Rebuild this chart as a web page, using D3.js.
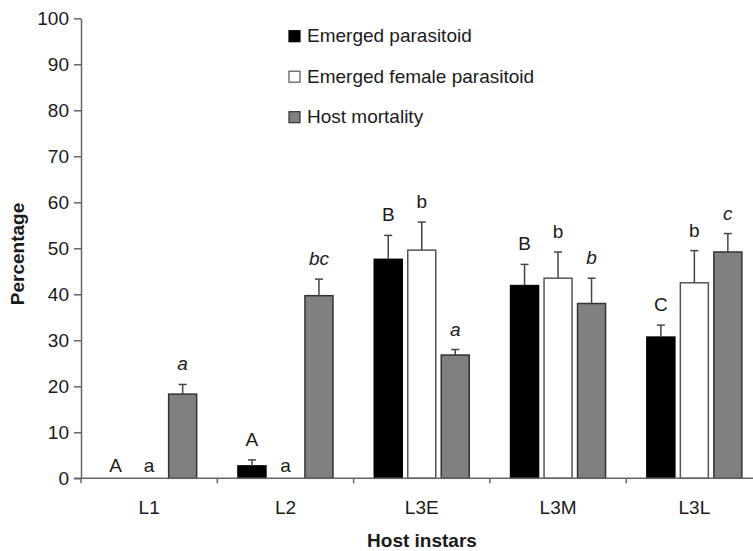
<!DOCTYPE html>
<html>
<head>
<meta charset="utf-8">
<script src="https://cdn.jsdelivr.net/npm/d3@7"></script>
<style>
  body { margin: 0; background: #fff; }
  svg { display: block; font-family: "Liberation Sans", Arial, sans-serif; }
</style>
</head>
<body>
<div id="chart"></div>
<script>
// data
var categories = ["L1", "L2", "L3E", "L3M", "L3L"];
var series = ["Emerged parasitoid", "Emerged female parasitoid", "Host mortality"];

var emerged      = [0, 2.7, 47.6, 41.9, 30.7];
var emergedErr   = [0, 1.3, 5.2, 4.6, 2.6];
var female       = [0, 0, 49.6, 43.5, 42.5];
var femaleErr    = [0, 0, 6.1, 5.7, 7.0];
var mortality    = [18.3, 39.7, 26.8, 38.0, 49.2];
var mortalityErr = [2.1, 3.6, 1.2, 5.5, 4.0];

var emergedLetters   = ["A", "A", "B", "B", "C"];
var femaleLetters    = ["a", "a", "b", "b", "b"];
var mortalityLetters = ["a", "bc", "a", "b", "c"];

var yTicks = [0, 10, 20, 30, 40, 50, 60, 70, 80, 90, 100];

var fills   = ["#000000", "#ffffff", "#808080"];
var strokes = ["#000000", "#555555", "#333333"];
var italic  = [false, false, true];

var w = 753, h = 551;
var axisColor = "#666";
var textColor = "#1a1a1a";

var svg = d3.select("#chart").append("svg")
    .attr("width", w)
    .attr("height", h);

var x = d3.scaleBand()
    .domain(categories)
    .range([81, 762.5])
    .paddingInner(0)
    .paddingOuter(0);

var y = d3.scaleLinear()
    .domain([0, 100])
    .range([478.3, 18.3]);

// bars inside each group
var xSub = d3.scaleBand()
    .domain(series)
    .range([x.bandwidth() / 2 - 47.5, x.bandwidth() / 2 + 47.5])
    .paddingInner(0.164);

var vals = [emerged, female, mortality];
var errs = [emergedErr, femaleErr, mortalityErr];
var lets = [emergedLetters, femaleLetters, mortalityLetters];

var rows = [];
categories.forEach(function(c, i) {
    series.forEach(function(s, j) {
        rows.push({cat: c, ser: s, j: j, v: vals[j][i], e: errs[j][i], lab: lets[j][i]});
    });
});

var g = svg.append("g");

var groups = g.selectAll(".bar")
    .data(rows)
    .enter().append("g")
    .attr("class", "bar")
    .attr("transform", function(d) { return "translate(" + (x(d.cat) + xSub(d.ser)) + ",0)"; });

groups.filter(function(d) { return d.v > 0; })
    .append("rect")
    .attr("x", 0)
    .attr("y", function(d) { return y(d.v); })
    .attr("width", xSub.bandwidth())
    .attr("height", function(d) { return y(0) - y(d.v); })
    .style("fill", function(d) { return fills[d.j]; })
    .style("stroke", function(d) { return strokes[d.j]; })
    .style("stroke-width", 1.5);

// error bars (upper only)
var cap = 4;
var eb = groups.filter(function(d) { return d.e > 0; });
eb.append("line")
    .attr("x1", xSub.bandwidth() / 2)
    .attr("x2", xSub.bandwidth() / 2)
    .attr("y1", function(d) { return y(d.v); })
    .attr("y2", function(d) { return y(d.v + d.e); })
    .style("stroke", "#444")
    .style("stroke-width", 1.5);
eb.append("line")
    .attr("x1", xSub.bandwidth() / 2 - cap)
    .attr("x2", xSub.bandwidth() / 2 + cap)
    .attr("y1", function(d) { return y(d.v + d.e); })
    .attr("y2", function(d) { return y(d.v + d.e); })
    .style("stroke", "#444")
    .style("stroke-width", 1.5);

// significance letters
groups.append("text")
    .attr("x", xSub.bandwidth() / 2)
    .attr("y", function(d) { return d.v > 0 ? y(d.v + d.e) - 14 : y(0) - 6; })
    .attr("text-anchor", "middle")
    .style("font-size", "19px")
    .style("font-style", function(d) { return italic[d.j] ? "italic" : "normal"; })
    .style("fill", textColor)
    .text(function(d) { return d.lab; });

// y axis
var yAxis = svg.append("g")
    .attr("transform", "translate(81,0)")
    .call(d3.axisLeft(y).tickValues(yTicks).tickSize(7).tickSizeOuter(0).tickPadding(5));
yAxis.selectAll("text").style("font-size", "19px").style("fill", textColor).attr("font-family", null);
yAxis.selectAll("line").style("stroke", axisColor).style("stroke-width", 1.5);
yAxis.select(".domain").style("stroke", axisColor).style("stroke-width", 1.5);

// x axis
var xAxis = svg.append("g")
    .attr("transform", "translate(0," + y(0) + ")")
    .call(d3.axisBottom(x).tickSize(0).tickSizeOuter(0).tickPadding(0));
xAxis.select(".domain").remove();
xAxis.selectAll("text")
    .attr("dy", null)
    .attr("y", 36)
    .style("font-size", "19px")
    .style("fill", textColor)
    .attr("font-family", null);

xAxis.append("line")
    .attr("x1", 74)
    .attr("x2", x.range()[1])
    .style("stroke", axisColor)
    .style("stroke-width", 1.5);

xAxis.selectAll(".bound")
    .data(categories)
    .enter().append("line")
    .attr("class", "bound")
    .attr("x1", function(d) { return x(d); })
    .attr("x2", function(d) { return x(d); })
    .attr("y1", 0)
    .attr("y2", 5)
    .style("stroke", axisColor)
    .style("stroke-width", 1.5);

// axis titles
svg.append("text")
    .attr("transform", "translate(24,254) rotate(-90)")
    .attr("text-anchor", "middle")
    .style("font-size", "19px")
    .style("font-weight", "bold")
    .style("fill", textColor)
    .text("Percentage");

svg.append("text")
    .attr("x", 422)
    .attr("y", 547)
    .attr("text-anchor", "middle")
    .style("font-size", "19px")
    .style("font-weight", "bold")
    .style("fill", textColor)
    .text("Host instars");

// legend
var legend = svg.append("g")
    .attr("transform", "translate(289,30.7)");

var items = legend.selectAll(".item")
    .data(series)
    .enter().append("g")
    .attr("class", "item")
    .attr("transform", function(d, i) { return "translate(0," + (i * 40.5) + ")"; });

items.append("rect")
    .attr("width", 11)
    .attr("height", 11)
    .style("fill", function(d, i) { return fills[i]; })
    .style("stroke", function(d, i) { return strokes[i]; })
    .style("stroke-width", 1.2);

items.append("text")
    .attr("x", 18)
    .attr("y", 11.5)
    .style("font-size", "19px")
    .style("fill", textColor)
    .text(function(d) { return d; });
</script>
</body>
</html>
